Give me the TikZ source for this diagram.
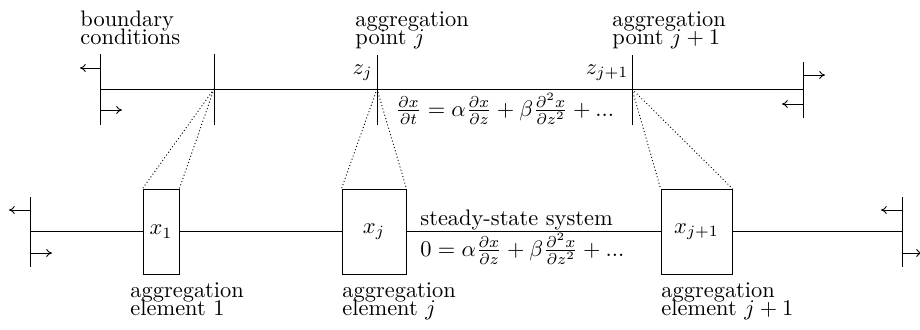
\documentclass[tikz,border=0pt]{standalone}
\usetikzlibrary{arrows.meta}
\begin{document}
\begin{tikzpicture}[x=0.446pt,y=-0.446pt,
  every path/.style={line width=0.4pt},
  arr/.style={-{To[length=2.6pt,width=3.6pt]}},
  dots/.style={dash pattern=on 0.45pt off 1.05pt},
  lbl/.style={anchor=north west,inner sep=0pt,align=left},
  elem/.style={draw,inner sep=0pt,minimum height=85*0.446pt}]
\useasboundingbox (0,0) rectangle (920,329);
% ---------- top (continuous) system ----------
\coordinate (tl) at (100,89);
\coordinate (tr) at (803,89);
\coordinate (tlt) at (100,54);  \coordinate (tlb) at (100,125);
\coordinate (trt) at (803,62);  \coordinate (trb) at (803,118);
\coordinate (tla1) at (100,68); \coordinate (tla1e) at (80,68);
\coordinate (tla2) at (100,110); \coordinate (tla2e) at (122,110);
\coordinate (tra1) at (803,75); \coordinate (tra1e) at (825,75);
\coordinate (tra2) at (803,104); \coordinate (tra2e) at (782,104);
\coordinate (b0) at (214,89); \coordinate (b0t) at (214,54); \coordinate (b0b) at (214,125);
\coordinate (pj) at (377,89); \coordinate (pjt) at (377,55); \coordinate (pjb) at (377,125);
\coordinate (pk) at (632,89); \coordinate (pkt) at (632,55); \coordinate (pkb) at (632,125);
\draw (tl) -- (tr);
\draw (tlt) -- (tlb);
\draw (trt) -- (trb);
\draw[arr] (tla1) -- (tla1e);
\draw[arr] (tla2) -- (tla2e);
\draw[arr] (tra1) -- (tra1e);
\draw[arr] (tra2) -- (tra2e);
\draw (b0t) -- (b0b);
\draw (pjt) -- (pjb);
\draw (pkt) -- (pkb);
\node[lbl] (lbc) at (80,10.4) {boundary\\[-4pt]conditions};
\node[lbl] (lpj) at (355,11) {aggregation\\[-4pt]point $j$};
\node[lbl] (lpk) at (612,11) {aggregation\\[-4pt]point $j+1$};
\node[anchor=base east,inner sep=0pt] (zj) at (373,74) {$z_j$};
\node[anchor=base east,inner sep=0pt] (zk) at (629,74) {$z_{j+1}$};
\node[anchor=base west,inner sep=0pt] (eqt) at (395,116.5)
  {$\frac{\partial x}{\partial t}=\alpha\frac{\partial x}{\partial z}+\beta\frac{\partial^2 x}{\partial z^2}+...$};
% ---------- bottom (aggregated) system ----------
\node[elem,minimum width=36*0.446pt] (e1) at (161,231.5) {$x_1$};
\node[elem,minimum width=64*0.446pt] (ej) at (374,231.5) {$x_j$};
\node[elem,minimum width=71*0.446pt] (ek) at (696.5,231.5) {$x_{j+1}$};
\coordinate (bl) at (30,231.5);
\coordinate (br) at (902,231.5);
\coordinate (blt) at (30,197); \coordinate (blb) at (30,267);
\coordinate (brt) at (902,197); \coordinate (brb) at (902,267);
\coordinate (bla1) at (30,210); \coordinate (bla1e) at (9,210);
\coordinate (bla2) at (30,253); \coordinate (bla2e) at (52,253);
\coordinate (bra1) at (902,210); \coordinate (bra1e) at (881,210);
\coordinate (bra2) at (902,253); \coordinate (bra2e) at (922,253);
\draw (bl) -- (e1.west);
\draw (e1.east) -- (ej.west);
\draw (ej.east) -- (ek.west);
\draw (ek.east) -- (br);
\draw (blt) -- (blb);
\draw (brt) -- (brb);
\draw[arr] (bla1) -- (bla1e);
\draw[arr] (bla2) -- (bla2e);
\draw[arr] (bra1) -- (bra1e);
\draw[arr] (bra2) -- (bra2e);
\node[lbl] (le1) at (130,282) {aggregation\\[-4pt]element 1};
\node[lbl] (lej) at (342,282) {aggregation\\[-4pt]element $j$};
\node[lbl] (lek) at (661,282) {aggregation\\[-4pt]element $j+1$};
\node[anchor=base west,inner sep=0pt] (sss) at (420,225) {steady-state system};
\node[anchor=base west,inner sep=0pt] (eqb) at (420,256.5)
  {$0=\alpha\frac{\partial x}{\partial z}+\beta\frac{\partial^2 x}{\partial z^2}+...$};
% ---------- dotted projections ----------
\draw[dots] (b0) -- (e1.north west);
\draw[dots] (b0) -- (e1.north east);
\draw[dots] (pj) -- (ej.north west);
\draw[dots] (pj) -- (ej.north east);
\draw[dots] (pk) -- (ek.north west);
\draw[dots] (pk) -- (ek.north east);
\end{tikzpicture}
\end{document}
